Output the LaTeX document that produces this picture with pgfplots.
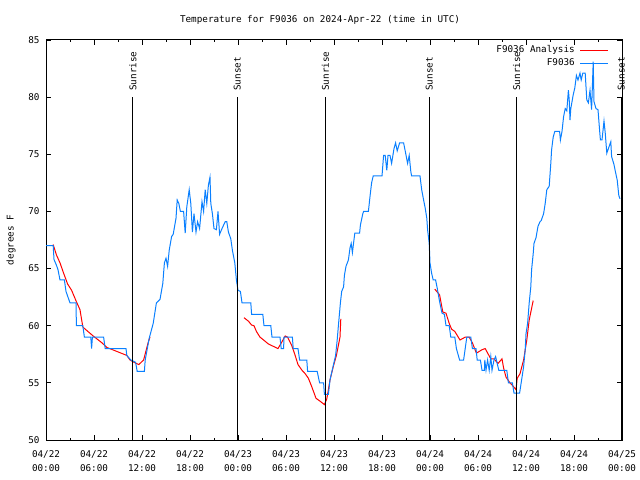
\documentclass[border=0pt]{standalone}
\usepackage{pgfplots}
\pgfplotsset{compat=1.18}
\usepackage{fontspec}
\setmainfont{DejaVu Sans Mono}
\definecolor{anared}{RGB}{255,0,0}
\definecolor{obsblue}{RGB}{10,128,255}
\newcommand{\gfont}{\fontsize{9.3bp}{14bp}\selectfont}
\begin{document}
\begin{tikzpicture}
\begin{axis}[
  at={(0,0)}, anchor=south west,
  scale only axis, width=576bp, height=400bp,
  xmin=0, xmax=72, ymin=50, ymax=85,
  clip=false,
  axis line style={black, line width=1bp},
  every tick/.style={black, line width=0.8bp},
  tick pos=both, tick align=inside,
  major tick length=5bp, minor tick length=2.5bp,
  xtick={0,6,...,72},
  minor x tick num=1,
  ytick={50,55,...,85},
  minor y tick num=0,
  xticklabels={{04/22\\00:00},{04/22\\06:00},{04/22\\12:00},{04/22\\18:00},{04/23\\00:00},{04/23\\06:00},{04/23\\12:00},{04/23\\18:00},{04/24\\00:00},{04/24\\06:00},{04/24\\12:00},{04/24\\18:00},{04/25\\00:00}},
  xticklabel style={align=center, font=\gfont, yshift=-7.5bp},
  yticklabel style={font=\gfont, xshift=-3bp},
  /pgf/number format/assume math mode=true,
  title={Temperature for F9036 on 2024-Apr-22 (time in UTC)},
  title style={font=\gfont, at={(0.4757,1)}, anchor=base, yshift=12bp},
  ylabel={degrees F},
  ylabel style={font=\gfont, at={(axis description cs:-0.0608,0.5)}, anchor=center},
  legend style={at={(1,1)}, anchor=north east, xshift=-13bp, yshift=-4.5bp, draw=none, fill=none, inner sep=0pt, font=\gfont, row sep=2bp, column sep=4bp, nodes={inner sep=1bp, text height=7bp, text depth=2bp}},
  legend cell align=right,
  legend plot pos=right,
  legend image code/.code={\draw[#1] (0bp,0bp) -- (28bp,0bp);},
]
% F9036 Analysis (red), three segments
\addplot[anared, line width=1bp] coordinates {
(0.9,67.1) (1.3,66.2) (1.75,65.5) (2.2,64.6) (2.7,63.65) (3.2,63.1) (3.8,62.1) (4.25,61.4) (4.6,59.9) (4.9,59.7) (5.9,59.1) (7.0,58.5) (7.6,58.1) (10.1,57.4) (10.5,57.0) (11.0,56.8) (11.6,56.6) (12.2,57.0) (12.8,58.6) (13.0,59.0)
};
\addlegendentry{F9036 Analysis}
\addplot[anared, line width=1bp, forget plot] coordinates {
(24.75,60.7) (25.3,60.4) (25.7,60.06) (26.0,60.0) (26.3,59.5) (26.75,59.0) (27.2,58.75) (27.8,58.4) (28.4,58.2) (29.0,58.0) (29.5,58.6) (29.9,59.1) (30.2,59.0) (30.7,58.3) (31.1,57.5) (31.5,56.6) (32.0,56.1) (32.4,55.8) (32.8,55.4) (33.2,54.7) (33.75,53.65) (34.25,53.4) (34.8,53.1) (35.1,53.6) (35.5,55.25) (35.9,56.4) (36.3,57.4) (36.75,59.0) (36.85,60.6)
};
\addplot[anared, line width=1bp, forget plot] coordinates {
(48.6,63.2) (49.2,62.7) (49.6,61.2) (50.0,61.1) (50.4,60.2) (50.7,59.7) (51.1,59.5) (51.75,58.75) (52.4,59.0) (52.9,59.0) (53.3,58.5) (53.8,57.6) (54.5,57.9) (54.9,58.0) (55.6,57.1) (56.0,57.1) (56.5,56.7) (57.0,57.1) (57.2,56.3) (57.5,55.5) (58.0,55.0) (58.4,54.7) (58.75,54.4) (58.9,55.4) (59.25,55.8) (59.7,57.0) (60.1,58.75) (60.4,60.5) (60.9,62.2)
};
% F9036 observations (blue)
\addplot[obsblue, line width=1bp] coordinates {
(0.0,67.0) (0.9,67.0) (1.0,65.8) (1.3,65.3) (1.5,64.9) (1.75,64.0) (2.3,64.0) (2.5,63.0) (3.0,62.0) (3.75,62.0) (3.8,60.0) (4.6,60.0) (4.8,59.0) (5.6,59.0) (5.7,58.0) (5.8,59.0) (7.2,59.0) (7.4,58.0) (10.0,58.0) (10.1,57.4) (10.6,57.0) (11.2,56.8) (11.4,56.0) (12.3,56.0) (12.4,57.0) (12.9,58.9) (13.4,60.2) (13.8,62.0) (14.25,62.3) (14.6,63.7) (14.8,65.5) (15.0,65.9) (15.2,65.2) (15.4,66.6) (15.7,67.8) (15.9,68.0) (16.25,69.4) (16.4,71.0) (16.6,70.7) (16.8,70.0) (17.2,70.0) (17.4,68.1) (17.6,70.4) (17.9,71.9) (18.1,70.7) (18.3,68.2) (18.5,69.8) (18.75,68.2) (18.95,69.1) (19.2,68.5) (19.5,70.85) (19.7,70.0) (19.9,71.9) (20.1,70.7) (20.3,72.3) (20.5,73.0) (20.6,70.7) (20.8,69.8) (21.0,68.5) (21.3,68.4) (21.5,70.0) (21.7,68.0) (22.0,68.5) (22.4,69.1) (22.6,69.1) (22.8,68.2) (23.1,67.6) (23.3,66.6) (23.6,65.5) (23.8,64.0) (24.0,63.1) (24.3,63.0) (24.5,62.0) (25.6,62.0) (25.7,61.0) (27.1,61.0) (27.25,60.0) (28.1,60.0) (28.25,59.0) (29.25,59.0) (29.4,58.0) (29.7,58.0) (29.75,59.0) (30.8,59.0) (30.9,58.0) (31.5,58.0) (31.7,57.0) (32.6,57.0) (32.7,56.0) (33.9,56.0) (34.2,55.0) (34.7,55.0) (34.8,54.0) (35.3,54.0) (35.5,55.25) (36.2,57.4) (36.4,58.75) (36.5,59.6) (36.8,62.0) (36.96,63.0) (37.2,63.4) (37.3,64.4) (37.5,65.2) (37.8,65.75) (38.0,66.8) (38.15,67.2) (38.3,66.4) (38.6,68.1) (39.2,68.1) (39.3,68.8) (39.6,69.8) (39.7,70.0) (40.3,70.0) (40.5,71.3) (40.7,72.5) (40.9,73.1) (42.0,73.1) (42.2,74.9) (42.4,74.9) (42.6,73.6) (42.75,74.9) (43.0,74.9) (43.2,74.2) (43.5,75.5) (43.7,76.0) (43.9,75.3) (44.2,76.0) (44.7,76.0) (44.9,75.3) (45.2,74.2) (45.4,74.9) (45.6,73.5) (45.7,73.1) (46.75,73.1) (46.96,71.9) (47.2,71.0) (47.4,70.3) (47.6,69.4) (47.7,68.4) (47.9,67.2) (48.0,65.5) (48.2,64.6) (48.4,64.0) (48.7,64.0) (48.9,63.3) (49.2,62.1) (49.5,61.1) (49.8,61.0) (50.0,60.0) (50.4,60.0) (50.6,59.0) (51.1,59.0) (51.3,58.0) (51.7,57.0) (52.2,57.0) (52.4,58.0) (52.6,59.0) (53.1,59.0) (53.3,58.0) (53.75,58.0) (53.9,57.0) (54.3,57.0) (54.5,56.1) (54.8,56.1) (54.85,57.0) (55.0,56.1) (55.2,57.0) (55.4,56.1) (55.6,57.3) (55.75,56.1) (56.0,57.0) (56.2,57.3) (56.6,56.1) (57.6,56.1) (57.8,55.0) (58.3,55.0) (58.5,54.1) (59.2,54.1) (59.45,55.25) (59.7,56.4) (59.9,57.9) (60.0,59.3) (60.2,60.2) (60.4,62.0) (60.6,63.4) (60.7,64.9) (60.9,66.3) (61.0,67.2) (61.25,67.7) (61.5,68.7) (61.75,69.1) (61.9,69.2) (62.2,69.8) (62.4,70.7) (62.6,71.9) (62.9,72.2) (63.1,74.2) (63.2,75.4) (63.4,76.5) (63.6,77.0) (64.2,77.0) (64.3,76.25) (64.5,77.0) (64.7,78.3) (64.9,79.0) (65.1,78.8) (65.3,80.6) (65.4,79.8) (65.5,78.0) (65.6,79.0) (65.9,80.2) (66.1,80.8) (66.3,81.9) (66.5,81.5) (66.75,82.1) (66.9,81.5) (67.1,82.1) (67.4,82.1) (67.6,79.75) (67.8,79.5) (68.0,80.6) (68.2,78.9) (68.4,83.1) (68.5,79.6) (68.75,79.0) (69.0,78.9) (69.2,77.1) (69.3,76.25) (69.5,76.25) (69.75,77.9) (69.9,76.9) (70.1,75.1) (70.3,75.5) (70.6,76.1) (70.7,74.8) (71.0,74.1) (71.2,73.4) (71.4,72.75) (71.6,71.4) (71.75,71.1)
};
\addlegendentry{F9036}
% sunrise / sunset markers
\addplot[black, line width=1bp, forget plot] coordinates {(10.85,50) (10.85,80)};
\addplot[black, line width=1bp, forget plot] coordinates {(23.92,50) (23.92,80)};
\addplot[black, line width=1bp, forget plot] coordinates {(34.93,50) (34.93,80)};
\addplot[black, line width=1bp, forget plot] coordinates {(47.92,50) (47.92,80)};
\addplot[black, line width=1bp, forget plot] coordinates {(58.82,50) (58.82,80)};
\addplot[black, line width=1bp, forget plot] coordinates {(71.9,50) (71.9,80)};
\node[rotate=90, anchor=west, font=\gfont, inner sep=0pt] at (axis cs:10.85,80.55) {Sunrise};
\node[rotate=90, anchor=west, font=\gfont, inner sep=0pt] at (axis cs:23.92,80.55) {Sunset};
\node[rotate=90, anchor=west, font=\gfont, inner sep=0pt] at (axis cs:34.93,80.55) {Sunrise};
\node[rotate=90, anchor=west, font=\gfont, inner sep=0pt] at (axis cs:47.92,80.55) {Sunset};
\node[rotate=90, anchor=west, font=\gfont, inner sep=0pt] at (axis cs:58.82,80.55) {Sunrise};
\node[rotate=90, anchor=west, font=\gfont, inner sep=0pt] at (axis cs:71.9,80.55) {Sunset};
\end{axis}
\pgfresetboundingbox
\path[use as bounding box] (-46bp,-40bp) rectangle (594bp,440bp);
\end{tikzpicture}
\end{document}
